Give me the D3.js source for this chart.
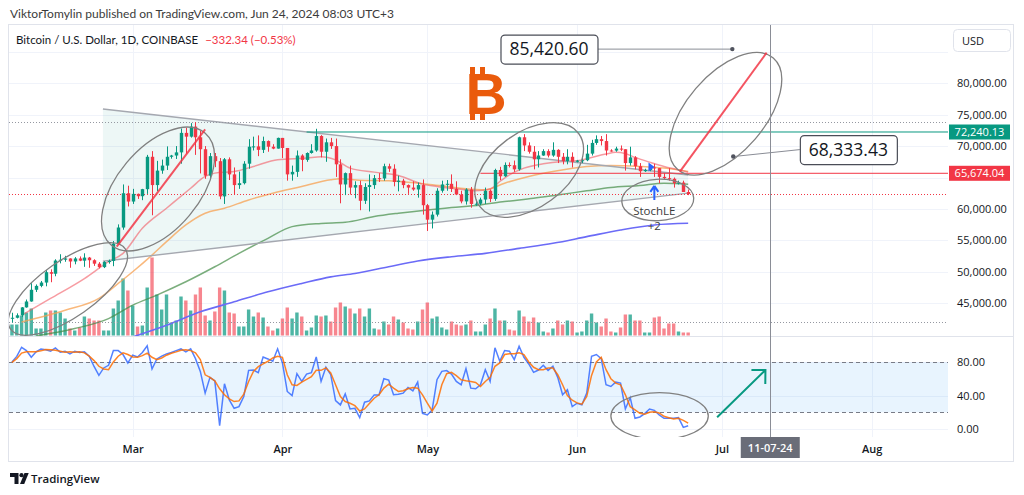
<!DOCTYPE html>
<html><head><meta charset="utf-8">
<script src="https://cdn.jsdelivr.net/npm/d3@7"></script>
<style>
html,body{margin:0;padding:0;background:#fff;}
svg{display:block;font-family:"Open Sans","Noto Sans",sans-serif;}
</style></head><body>
<svg id="c" width="1024" height="495"></svg>
<script>
// ---------------- DATA ----------------
const startDate = "2024-02-05";
const opens = [42580,42700,43090,44350,45290,47150,47770,48300,49950,49700,
 51800,51930,52130,51650,52130,51780,52270,51850,51300,50750,
 51560,51730,54500,57050,62500,61180,62400,62030,63150,68300,
 63800,66100,66900,68300,68500,69000,72100,71500,73100,71400,
 69500,65300,68400,67600,62000,67900,65500,63800,64100,67200,
 69900,69950,69400,70800,69900,69600,71300,69700,65500,65900,
 68500,67800,68900,69300,71600,69100,70600,70000,67100,63900,
 65700,63400,63800,61300,63500,63800,64900,64850,66800,66400,
 64300,64500,63800,63400,63100,63800,60600,58300,59100,62900,
 63900,64000,63200,62300,61200,63100,60800,60830,61500,62900,
 61600,66200,65200,67000,66950,66300,71400,70100,69100,67900,
 68500,69200,68500,69400,68300,67600,68300,67500,67700,67750,
 68800,70500,71100,70800,69300,69280,69600,69500,67300,68200,
 66800,66000,66200,66600,66500,65100,64900,64800,64100,64200,
 62700];
const highs = [43500,43400,44400,45600,48200,48000,48550,50300,50400,52000,
 52800,52550,52150,52350,52450,52950,52370,52000,51550,51700,
 51950,54900,57550,63900,63700,63200,62450,63200,68600,69200,
 67650,67850,69950,68600,70000,72800,72900,73650,73800,72400,
 70000,68900,68900,68100,68100,68200,66600,65950,67600,71100,
 71500,71700,71500,70900,70300,71350,71300,69700,66900,69300,
 68700,69000,70300,72750,71750,71200,71300,71200,67900,65800,
 66900,64400,64500,64100,65500,65400,65700,67200,67200,67100,
 65300,64800,63900,64400,64200,64700,60800,59600,63300,64500,
 64600,65500,64400,62900,63300,63500,61500,61800,63400,63100,
 66400,66700,67400,67400,67700,71500,71900,70600,70000,69200,
 69500,69500,70600,69500,68900,69500,69000,67800,68400,70200,
 71000,71700,71600,71900,69500,69900,70100,69500,69900,68400,
 67300,66400,66900,67200,66500,65700,66500,65000,64500,64500,
 63100];
const lows = [41950,42600,42800,44300,45250,46800,47550,47700,48350,49300,
 51350,51600,50650,51200,51700,50800,50650,50950,50550,50600,
 51300,50900,54450,56700,60400,60800,61600,61400,62400,59000,
 62850,65600,66200,68000,67950,67200,68800,71350,68600,65650,
 64800,64600,66650,61550,60800,64600,62300,63200,63900,66400,
 69300,68400,68900,69100,69500,69600,68100,64500,64500,65100,
 66000,67500,68800,69100,68200,67500,69550,65100,60900,62200,
 62300,61700,59800,60800,59600,63200,64300,64500,65900,63600,
 62800,63300,62400,62900,61800,59100,56500,56900,58800,62600,
 62900,62700,62200,60900,60700,60200,60500,60600,60800,61100,
 61300,64600,65100,66600,65900,66100,69200,68800,66300,66600,
 68450,68200,68300,67300,67100,67100,66600,67400,67300,67600,
 68500,70200,70100,68500,69100,69100,69200,66100,66900,66300,
 65100,65900,66000,65100,64100,64700,64500,63400,63900,62700,
 62200];
const closes = [42700,43090,44350,45290,47150,47770,48300,49950,49700,51800,
 51930,52130,51650,52130,51780,52270,51850,51300,50750,51560,
 51730,54500,57050,62500,61180,62400,62030,63150,68300,63800,
 66100,66900,68300,68500,69000,72100,71500,73100,71400,69500,
 65300,68400,67600,62000,67900,65500,63800,64100,67200,69900,
 69950,69400,70800,69900,69600,71300,69700,65500,65900,68500,
 67800,68900,69300,71600,69100,70600,70000,67100,63900,65700,
 63400,63800,61300,63500,63800,64900,64850,66800,66400,64300,
 64500,63800,63400,63100,63800,60600,58300,59100,62900,63900,
 64000,63200,62300,61200,63100,60800,60830,61500,62900,61600,
 66200,65200,67000,66950,66300,71400,70100,69100,67900,68500,
 69200,68500,69400,68300,67600,68300,67500,67700,67750,68800,
 70500,71100,70800,69300,69280,69600,69500,67300,68200,66800,
 66000,66200,66600,66500,65100,64900,64800,64100,64200,62700,
 62368];
// volume, thousand BTC
const volumes = [6.6,6.6,12,13.8,16.2,4.2,4.2,13.8,15,15,13.8,10.2,4.2,3,4.8,11.4,10.2,9,9,3,
 3,16.2,21,34.2,27,18,5.4,6,28.8,46.8,24.6,15.6,24.6,7.8,9,23.4,21,15,24.6,28.8,
 12,9,14.4,28.8,27,13.8,13.2,5.4,5.4,15.6,11.4,13.8,10.8,5.4,3,4.2,10.2,16.8,10.2,13.8,
 11.4,3,4.8,12,11.4,12,8.4,16.8,19.8,17.4,
 16.2,13.2,16.2,11.4,16.2,4.2,3.6,8.4,6.6,11.4,9.6,7.8,4.2,3.6,8.4,15.6,19.8,10.2,11.4,4.8,
 3.6,8.4,6.6,6,6.6,9,2.4,2.4,6.6,10.2,16.2,9,9,3.6,3,15,11.4,8.4,10.8,7.8,
 2.4,1.8,4.2,9,6.6,9,8.4,1.8,2.4,9,13.2,7.8,5.4,10.2,2.4,1.8,4.8,12.6,12.6,9,
 9,1.8,1.8,10.8,11.4,4.2,7.2,7.2,2.4,1.8,1.8];
// Stochastic %K and %D
const stochK = [80.4,87,98,94,86,92.5,96,95,93.3,97.3,92,93.3,90,93.3,91.7,92.5,87.3,75,64.3,73.2,
 76.4,94,94,89.3,79.2,88.5,86.4,91.7,99.7,72,84,87.3,90,91.7,94,96,92.5,96,84.4,69.1,
 43,61.9,57.8,4,54.2,34.9,24.8,26.8,39,70.3,70.8,67.5,86.4,84,81.2,96.1,79.2,45,40.1,66.3,
 57,65.9,67.5,86.4,57,74,65.1,34.1,28.9,42.1,24,24.8,13.6,32.1,33.7,40.9,40.9,60.3,58.7,41,
 41.7,43,49.8,45.8,56.2,18.8,16.8,22.8,59.1,69.1,70,65.9,57,53,72.4,49,48.2,53,71.1,57,
 97.3,81.2,94.1,93.3,83.2,99.3,86,78,67.9,70.7,76.4,70.3,75.2,61.9,41,47,26.8,30.9,28.9,43,
 87.3,89.3,84.4,53,51,56.2,55,24,37.7,12.8,14.4,18.4,24,22.4,16.8,12.8,12.8,12.8,13.6,1.9,3.9];
const stochD = [80,84.4,91,92.5,92.5,92.5,93.7,95.3,95,94.5,93.3,92,92.5,92,92.5,91.3,87.3,82,75.2,72,
 71.1,80.4,87.3,91.3,89.3,86.4,86,88,90.9,86,83.2,85.2,88.5,90.9,92.5,94.5,95,94,91.3,83.2,
 65,61.9,57.8,48.2,41,36.1,32.9,33.7,41.8,57,69.1,74.8,78,81.2,85.2,87.3,86,65.1,53,52.2,
 56.2,59.5,62.7,70.3,70.3,73.2,67.1,53,38.9,32.9,30.9,28,21.6,24,30.5,36.9,41,49,53.8,49,
 45,45.8,48.2,49.8,49,41,30.9,21.6,30.9,53,66.3,67.9,63.9,59,57.8,57,55.8,51,57,61.9,
 75.2,79.2,89.3,90.1,90.1,91.3,89.3,80.4,74,71.1,71.1,73.2,73.2,65.1,53,40.1,34.5,31.3,29.7,38.9,
 64.3,80.4,86,71.1,60.3,55,53,41,26.8,22.8,18.8,17.6,20,20.8,19.2,15.2,13.6,12,12.8,10.3,7.1];
// Moving averages: [date, value]
const maFast = [["2024-02-07",43100],["2024-02-13",45770],["2024-02-20",48940],["2024-02-25",51610],
 ["2024-02-28",52940],["2024-03-03",56930],["2024-03-08",60120],["2024-03-13",63300],["2024-03-16",65170],
 ["2024-03-18",65700],["2024-03-22",65960],["2024-03-26",66760],["2024-03-31",67830],["2024-04-06",68090],
 ["2024-04-09",68300],["2024-04-12",67800],["2024-04-15",66500],["2024-04-20",65860],["2024-04-25",65330],
 ["2024-04-30",63950],["2024-05-03",63570],["2024-05-07",63200],["2024-05-11",62880],["2024-05-14",63200],
 ["2024-05-16",64370],["2024-05-18",65430],["2024-05-21",66500],["2024-05-25",67190],["2024-05-29",67560],
 ["2024-06-01",67670],["2024-06-04",68200],["2024-06-07",68730],["2024-06-09",69000],["2024-06-11",68800],
 ["2024-06-13",68200],["2024-06-16",67450],["2024-06-19",66760],["2024-06-22",66230],["2024-06-24",65860]];
const maMid = [["2024-02-07",42040],["2024-02-16",43900],["2024-02-23",45770],["2024-02-27",48160],
 ["2024-03-01",50020],["2024-03-05",52670],["2024-03-08",54800],["2024-03-12",57460],["2024-03-16",59320],
 ["2024-03-20",60120],["2024-03-25",61440],["2024-03-30",62510],["2024-04-05",63570],["2024-04-11",64640],
 ["2024-04-13",64800],["2024-04-17",64580],["2024-04-23",64480],["2024-04-27",64260],["2024-05-01",63950],
 ["2024-05-05",63570],["2024-05-09",63200],["2024-05-13",63040],["2024-05-17",64100],["2024-05-22",65170],
 ["2024-05-27",65960],["2024-06-03",66760],["2024-06-08",66920],["2024-06-14",66760],["2024-06-19",66500],
 ["2024-06-24",65960]];
const maSlow = [["2024-02-10",39800],["2024-02-18",40980],["2024-02-25",42570],["2024-03-01",44700],
 ["2024-03-06",46300],["2024-03-12",48420],["2024-03-18",50810],["2024-03-23",52940],["2024-03-29",55330],
 ["2024-04-03",57190],["2024-04-09",57700],["2024-04-14",57880],["2024-04-20",58790],["2024-04-25",59320],
 ["2024-05-01",59850],["2024-05-06",60220],["2024-05-12",60650],["2024-05-17",61180],["2024-05-23",61710],
 ["2024-05-28",62240],["2024-06-03",62880],["2024-06-08",63410],["2024-06-14",63730],["2024-06-19",64100],
 ["2024-06-24",63940]];
const ma200 = [["2024-03-01",39650],["2024-03-08",41510],["2024-03-15",43640],["2024-03-22",45230],
 ["2024-03-29",46830],["2024-04-05",48160],["2024-04-11",49200],["2024-04-16",49750],["2024-04-23",50810],
 ["2024-04-29",51720],["2024-05-06",52410],["2024-05-13",52940],["2024-05-20",53740],["2024-05-27",54540],
 ["2024-06-03",55600],["2024-06-10",56660],["2024-06-17",57460],["2024-06-24",57720]];
const priceTicks = [45000,50000,55000,60000,70000,75000,80000];
const gridPrices = [45000,50000,55000,60000,65000,70000,75000,80000,85000];
const stochTicks = [0,40,80];
const monthTicks = ["2024-03-01","2024-04-01","2024-05-01","2024-06-01","2024-07-01","2024-08-01"];
const hLevels = [{p:72240.13, from:"2024-04-06", c:"#089981"},{p:65674.04, from:"2024-05-12", c:"#f23645"}];
const priceLabels = [{txt:"85,420.60", p:85420.60, dot:"2024-07-03T03:30Z", box:["2024-05-26T04:30Z",85420.60]},
                     {txt:"68,333.43", p:68333.43, dot:"2024-07-03T08:00Z", box:["2024-07-27T04:00Z",69442]}];
const triangle = [["2024-02-23T20:00Z",75898],["2024-06-24",65404],["2024-06-24",62526],["2024-02-23T20:00Z",51682]];
const trendLines = [[["2024-02-26T16:30Z",54004],["2024-03-16",72670]],[["2024-06-22T07:00Z",65929],["2024-07-10T06:00Z",84850]]];
const ellipses = [{c:["2024-02-16T14:00Z",47275],rx:70,ry:28,rot:-35},
                  {c:["2024-03-06T06:00Z",63178],rx:73,ry:41,rot:-50},
                  {c:["2024-05-22T02:00Z",66199],rx:61.5,ry:37.4,rot:-36.4},
                  {c:["2024-06-17T17:00Z",61429],rx:36,ry:20.7,rot:-3},
                  {c:["2024-07-01T17:30Z",75135],rx:73.4,ry:39,rot:-49.4}];
const stochEllipse = {c:["2024-06-18T02:00Z",15.6],rx:48.7,ry:23.3,rot:0};
const stochArrow = [["2024-06-30",14],["2024-07-10",70.7]];
const vLineDate = "2024-07-11";
const signalDate = "2024-06-17";
const flagPoint = ["2024-06-16", 66676];

// ---------------- SETUP ----------------
const svg = d3.select("#c");
const P = s => new Date(s.length<=10 ? s+"T00:00Z" : s);
const t0 = P(startDate);
const dates = closes.map((_,i)=>d3.utcDay.offset(t0,i));
const L=9, R=948, MT=25, MB=336, ST=338, SB=437;
const x = d3.scaleUtc().domain([P("2024-03-01"),P("2024-08-01")]).range([132.7,871.7]);
const y = d3.scaleLinear().domain([45000,80000]).range([303.3,83.2]);
const yv = d3.scaleLinear().domain([0,46.8]).range([335.5,257.5]);
const ys = d3.scaleLinear().domain([0,100]).range([429,345.6]);
const GREEN="#089981", RED="#f23645", TXT="#131722";

const defs = svg.append("defs");
defs.append("clipPath").attr("id","cm").append("rect").attr("x",L).attr("y",MT).attr("width",R-L).attr("height",MB-MT);
defs.append("clipPath").attr("id","cs").append("rect").attr("x",L).attr("y",ST).attr("width",R-L).attr("height",SB-ST);

// header
svg.append("text").attr("x",10).attr("y",18).attr("font-size",12).attr("font-family","Lato").attr("fill","#3b3b3b")
  .text("ViktorTomylin published on TradingView.com, Jun 24, 2024 08:03 UTC+3");
// frame
svg.append("rect").attr("x",8.5).attr("y",24.5).attr("width",1005).attr("height",437)
  .attr("fill","#fff").attr("stroke","#e0e3eb");

// grid
const grid = svg.append("g").attr("stroke","#f0f3fa").attr("stroke-width",1);
gridPrices.forEach(p=>grid.append("line").attr("x1",L).attr("x2",R).attr("y1",Math.round(y(p))+0.5).attr("y2",Math.round(y(p))+0.5));
monthTicks.forEach(m=>{const xx=Math.round(x(P(m)))+0.5; grid.append("line").attr("x1",xx).attr("x2",xx).attr("y1",MT).attr("y2",SB);});
stochTicks.forEach(v=>grid.append("line").attr("x1",L).attr("x2",R).attr("y1",Math.round(ys(v))+0.5).attr("y2",Math.round(ys(v))+0.5));
svg.append("line").attr("x1",L).attr("x2",1013).attr("y1",336.5).attr("y2",336.5).attr("stroke","#e0e3eb");

// ---------------- MAIN PANE ----------------
const gm = svg.append("g").attr("clip-path","url(#cm)");
// triangle
const tri = triangle.map(d=>[x(P(d[0])),y(d[1])]);
gm.append("path").attr("d","M"+tri.map(d=>d.join(",")).join("L")+"Z").attr("fill","rgba(8,153,129,0.075)");
// volume
const bw = 3.4;
gm.append("g").selectAll("rect").data(volumes).join("rect")
  .attr("x",(d,i)=>x(dates[i])-bw/2).attr("width",bw)
  .attr("y",d=>yv(d)).attr("height",d=>yv(0)-yv(d))
  .attr("fill",(d,i)=>closes[i]>=opens[i]?"rgba(8,153,129,0.72)":"rgba(242,54,69,0.6)");
// MAs
const maLine = d3.line().x(d=>x(P(d[0]))).y(d=>y(d[1])).curve(d3.curveMonotoneX);
gm.append("path").attr("d",maLine(ma200)).attr("fill","none").attr("stroke","#6b6bf7").attr("stroke-width",1.6);
gm.append("path").attr("d",maLine(maSlow)).attr("fill","none").attr("stroke","rgba(67,140,70,0.7)").attr("stroke-width",1.5);
gm.append("path").attr("d",maLine(maMid)).attr("fill","none").attr("stroke","rgba(247,160,80,0.75)").attr("stroke-width",1.5);
gm.append("path").attr("d",maLine(maFast)).attr("fill","none").attr("stroke","rgba(242,90,100,0.6)").attr("stroke-width",1.5);
// triangle edges
gm.append("line").attr("x1",tri[0][0]).attr("y1",tri[0][1]).attr("x2",tri[1][0]).attr("y2",tri[1][1]).attr("stroke","#a5a8b0").attr("stroke-width",1.4);
gm.append("line").attr("x1",tri[3][0]).attr("y1",tri[3][1]).attr("x2",tri[2][0]).attr("y2",tri[2][1]).attr("stroke","#a5a8b0").attr("stroke-width",1.4);
// horizontal levels
hLevels.forEach(h=>gm.append("line").attr("x1",x(P(h.from))).attr("x2",R).attr("y1",y(h.p)).attr("y2",y(h.p)).attr("stroke",h.c).attr("stroke-width",1));
// high / low / last dotted
const hi = d3.max(highs), lo = d3.min(lows), last = closes[closes.length-1];
[[hi,"#9598a1"],[lo,"#9598a1"],[last,RED]].forEach(([p,c])=>
  gm.append("line").attr("x1",L).attr("x2",R).attr("y1",Math.round(y(p))+0.5).attr("y2",Math.round(y(p))+0.5)
   .attr("stroke",c).attr("stroke-dasharray","1,2").attr("stroke-width",1));
// candles
const cg = gm.append("g");
dates.forEach((d,i)=>{
  const cx = Math.round(x(d))+0.5, up = closes[i]>=opens[i], col = up?GREEN:RED;
  cg.append("line").attr("x1",cx).attr("x2",cx).attr("y1",y(highs[i])).attr("y2",y(lows[i])).attr("stroke",col).attr("stroke-width",1);
  const y1=y(Math.max(opens[i],closes[i])), y2=y(Math.min(opens[i],closes[i]));
  cg.append("rect").attr("x",cx-1.7).attr("width",3.4).attr("y",y1).attr("height",Math.max(1,y2-y1)).attr("fill",col);
});
// ellipses
const eg = gm.append("g").attr("fill","none").attr("stroke","#808080").attr("stroke-width",1.3);
ellipses.forEach(e=>eg.append("ellipse").attr("rx",e.rx).attr("ry",e.ry)
  .attr("transform",`translate(${x(P(e.c[0]))},${y(e.c[1])}) rotate(${e.rot})`));
// red trend lines
trendLines.forEach(l=>gm.append("line").attr("x1",x(P(l[0][0]))).attr("y1",y(l[0][1])).attr("x2",x(P(l[1][0]))).attr("y2",y(l[1][1]))
  .attr("stroke",RED).attr("stroke-opacity",0.85).attr("stroke-width",2));
// flag marker
{const fx=x(P(flagPoint[0])), fy=y(flagPoint[1]);
 gm.append("path").attr("d",`M${fx-1},${fy-4.5}L${fx+5},${fy}L${fx-1},${fy+4.5}Z`).attr("fill","#2962ff");}
// StochLE signal
{const si = dates.findIndex(d=>+d===+P(signalDate)); const sx=x(dates[si]), sl=y(lows[si]);
 gm.append("path").attr("d",`M${sx},${sl+9}L${sx-4},${sl+15}M${sx},${sl+9}L${sx+4},${sl+15}M${sx},${sl+9}L${sx},${sl+23}`)
   .attr("stroke","#2962ff").attr("stroke-width",2).attr("fill","none");
 gm.append("text").attr("x",sx).attr("y",sl+38).attr("text-anchor","middle").attr("font-size",11.5).attr("fill","#3b3b3b").text("StochLE");
 gm.append("text").attr("x",sx).attr("y",sl+53).attr("text-anchor","middle").attr("font-size",11.5).attr("fill","#3b3b3b").text("+2");}
// Bitcoin logo
{const bg = svg.append("g").attr("fill","#ea5b0c");
 bg.append("text").attr("x",486).attr("y",114).attr("text-anchor","middle").attr("font-family","Liberation Sans, Arial, sans-serif")
   .attr("font-weight","bold").attr("font-size",57).text("B");
 [[470,67],[480,67],[470,113],[480,113]].forEach(([a,b])=>bg.append("rect").attr("x",a).attr("y",b).attr("width",5).attr("height",7));}
// price labels
priceLabels.forEach(pl=>{
  const dx=x(P(pl.dot)), dy=y(pl.p), bx=x(P(pl.box[0])), by=y(pl.box[1]);
  const bwid=97, bh=29, edge = bx<dx ? bx+bwid/2 : bx-bwid/2;
  svg.append("line").attr("x1",dx).attr("y1",dy).attr("x2",edge).attr("y2",by).attr("stroke","#8a8d96").attr("stroke-width",1);
  svg.append("circle").attr("cx",dx).attr("cy",dy).attr("r",2.2).attr("fill","#50535e");
  svg.append("rect").attr("x",bx-bwid/2+0.5).attr("y",by-bh/2+0.5).attr("width",bwid).attr("height",bh).attr("rx",4)
    .attr("fill","#fff").attr("stroke","#4a4d57").attr("stroke-width",1.2);
  svg.append("text").attr("x",bx).attr("y",by+6).attr("text-anchor","middle").attr("font-size",17.5).attr("fill",TXT).text(pl.txt);
});
// legend
svg.append("text").attr("x",16).attr("y",43.5).attr("font-size",11.5).attr("font-family","Lato").attr("fill",TXT)
  .text("Bitcoin / U.S. Dollar, 1D, COINBASE").append("tspan").attr("fill",RED).attr("dx",7).text("\u2212332.34 (\u22120.53%)");

// ---------------- STOCH PANE ----------------
const gs = svg.append("g").attr("clip-path","url(#cs)");
gs.append("rect").attr("x",L).attr("width",R-L).attr("y",ys(80)).attr("height",ys(20)-ys(80)).attr("fill","rgba(33,150,243,0.1)");
[80,20].forEach(v=>gs.append("line").attr("x1",L).attr("x2",R).attr("y1",Math.round(ys(v))+0.5).attr("y2",Math.round(ys(v))+0.5)
  .attr("stroke","#787b86").attr("stroke-dasharray","4,3").attr("stroke-width",1));
const sl = arr => d3.line().x((d,i)=>x(dates[i])).y(d=>ys(d))(arr);
gs.append("path").attr("d",sl(stochK)).attr("fill","none").attr("stroke","#2962ff").attr("stroke-opacity",0.8).attr("stroke-width",1.5);
gs.append("path").attr("d",sl(stochD)).attr("fill","none").attr("stroke","#ff6d00").attr("stroke-opacity",0.85).attr("stroke-width",1.5);
gs.append("ellipse").attr("rx",stochEllipse.rx).attr("ry",stochEllipse.ry)
  .attr("transform",`translate(${x(P(stochEllipse.c[0]))},${ys(stochEllipse.c[1])}) rotate(${stochEllipse.rot})`)
  .attr("fill","none").attr("stroke","#808080").attr("stroke-width",1.3);
{const a=[x(P(stochArrow[0][0])),ys(stochArrow[0][1])], b=[x(P(stochArrow[1][0])),ys(stochArrow[1][1])];
 const ang=Math.atan2(b[1]-a[1],b[0]-a[0]), len=14;
 const w1=[b[0]+len*Math.cos(ang+Math.PI-Math.PI/4), b[1]+len*Math.sin(ang+Math.PI-Math.PI/4)];
 const w2=[b[0]+len*Math.cos(ang+Math.PI+Math.PI/4), b[1]+len*Math.sin(ang+Math.PI+Math.PI/4)];
 gs.append("path").attr("d",`M${a}L${b}M${w1}L${b}L${w2}`).attr("fill","none").attr("stroke","#089981").attr("stroke-width",2);}

// vertical line
{const vx=Math.round(x(P(vLineDate)))+0.5;
 svg.append("line").attr("x1",vx).attr("x2",vx).attr("y1",25).attr("y2",SB).attr("stroke","#8a8d96").attr("stroke-width",1);}

// ---------------- AXES ----------------
const pa = svg.append("g").attr("transform","translate(949,0)").call(d3.axisRight(y).tickValues(priceTicks).tickSize(0).tickPadding(8).tickFormat(d3.format(",.2f")));
pa.select(".domain").remove();
pa.selectAll("text").attr("font-size",11).attr("fill",TXT).attr("font-family","Open Sans");
const sa = svg.append("g").attr("transform","translate(949,0)").call(d3.axisRight(ys).tickValues(stochTicks).tickSize(0).tickPadding(8).tickFormat(d3.format(".2f")));
sa.select(".domain").remove();
sa.selectAll("text").attr("font-size",11).attr("fill",TXT).attr("font-family","Open Sans");
// level labels on axis
hLevels.forEach(h=>{const yy=y(h.p);
  svg.append("rect").attr("x",949).attr("y",yy-7.5).attr("width",61).attr("height",15).attr("fill",h.c);
  svg.append("text").attr("x",979.5).attr("y",yy+4).attr("text-anchor","middle").attr("font-size",11).attr("fill","#fff").text(d3.format(",.2f")(h.p));});
// USD box
svg.append("rect").attr("x",953.5).attr("y",29.5).attr("width",57).attr("height",22).attr("rx",4).attr("fill","#fff").attr("stroke","#e0e3eb");
svg.append("text").attr("x",962).attr("y",44.5).attr("font-size",11).attr("fill",TXT).text("USD");
// time axis
const ta = svg.append("g").attr("transform",`translate(0,${SB})`).call(d3.axisBottom(x).tickValues(monthTicks.map(P)).tickSize(0).tickPadding(8).tickFormat(d3.utcFormat("%b")));
ta.select(".domain").remove();
ta.selectAll("text").attr("font-size",11).attr("font-weight",600).attr("fill",TXT).attr("font-family","Open Sans");
{const vx=x(P(vLineDate));
 svg.append("rect").attr("x",vx-29.5).attr("y",437).attr("width",59).attr("height",21).attr("fill","#6a6d78");
 svg.append("text").attr("x",vx).attr("y",452).attr("text-anchor","middle").attr("font-size",11).attr("font-weight",600).attr("fill","#fff").text(d3.utcFormat("%d-%m-%y")(P(vLineDate)));}

// TradingView logo
{const lg = svg.append("g").attr("fill",TXT);
 lg.append("path").attr("d","M10,473h8.5v11h-4v-7h-4.5z");
 lg.append("circle").attr("cx",21.5).attr("cy",475.2).attr("r",2.1);
 lg.append("path").attr("d","M20,484l4.5,-11h4.2l-4.5,11z");
 lg.append("text").attr("x",31).attr("y",483).attr("font-size",11.5).attr("font-weight",600).text("TradingView");}
</script>
</body></html>
